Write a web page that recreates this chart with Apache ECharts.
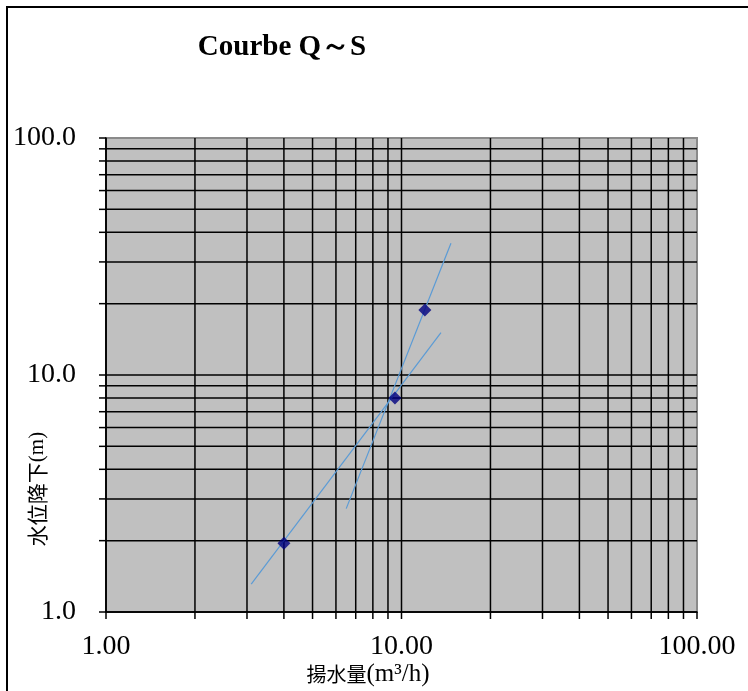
<!DOCTYPE html>
<html>
<head>
<meta charset="utf-8">
<script src="https://cdn.jsdelivr.net/npm/echarts@6/dist/echarts.min.js"></script>
<style>
  html, body { margin: 0; padding: 0; background: #fff; }
  #chart { width: 748px; height: 691px; }
</style>
</head>
<body>
<div id="chart"></div>
<script>
// Pumping test: discharge Q (m3/h) against drawdown S (m), log-log
const pumpQ = [4.0, 9.5, 12.0];
const drawS = [1.95, 8.0, 18.8];

// Straight trend segments (end points) through successive step pairs
const trendLow = [[3.1, 1.31], [13.6, 15.1]];
const trendHigh = [[6.5, 2.73], [14.7, 36.0]];

// Decade range and the 1-2-...-9 grid values of both axes
const axisMin = 1;
const axisMax = 100;
const gridValues = [1, 2, 3, 4, 5, 6, 7, 8, 9, 10, 20, 30, 40, 50, 60, 70, 80, 90, 100];

const serif = '"Times New Roman", "Liberation Serif", serif';
const cjk = '"Noto Sans CJK JP", "Noto Sans CJK SC", sans-serif';

const chart = echarts.init(document.getElementById('chart'), null, { renderer: 'canvas' });

const tickLen = 7;
const gridStroke = { stroke: '#000', lineWidth: 1.5 };

chart.setOption({
  animation: false,
  grid: {
    left: 106, right: 51, top: 138, bottom: 79,
    show: true,
    backgroundColor: '#c0c0c0',
    borderColor: '#8a8a8a',
    borderWidth: 2
  },
  xAxis: {
    type: 'log', logBase: 10, min: axisMin, max: axisMax,
    axisLine: { show: true, lineStyle: { color: '#000', width: 1.5 } },
    axisTick: { show: false },
    splitLine: { show: false },
    axisLabel: {
      margin: 21,
      color: '#000',
      fontFamily: serif,
      fontSize: 28,
      formatter: v => Number(v).toFixed(2)
    }
  },
  yAxis: {
    type: 'log', logBase: 10, min: axisMin, max: axisMax,
    axisLine: { show: true, lineStyle: { color: '#000', width: 1.5 } },
    axisTick: { show: false },
    splitLine: { show: false },
    axisLabel: {
      margin: 30,
      color: '#000',
      fontFamily: serif,
      fontSize: 28,
      formatter: v => Number(v).toFixed(1)
    }
  },
  graphic: [
    {
      type: 'rect', silent: true,
      shape: { x: 7, y: 7, width: 900, height: 900 },
      style: { fill: 'none', stroke: '#000', lineWidth: 2 }
    },
    {
      type: 'text', x: 282, y: 48, silent: true,
      style: {
        text: 'Courbe Q～S',
        font: 'bold 29px ' + serif,
        fill: '#000',
        align: 'center', verticalAlign: 'middle',
        textAlign: 'center', textVerticalAlign: 'middle'
      }
    },
    {
      type: 'text', x: 368, y: 674, silent: true,
      style: {
        text: '{c|揚水量}{l|(m³/h)}',
        fill: '#000',
        align: 'center', verticalAlign: 'middle',
        textAlign: 'center', textVerticalAlign: 'middle',
        rich: {
          c: { fontFamily: cjk, fontSize: 20, fill: '#000' },
          l: { fontFamily: serif, fontSize: 25, fill: '#000' }
        }
      }
    },
    {
      type: 'text', x: 37, y: 489, rotation: Math.PI / 2, silent: true,
      style: {
        text: '{c|水位降下}{l|(m)}',
        fill: '#000',
        align: 'center', verticalAlign: 'middle',
        textAlign: 'center', textVerticalAlign: 'middle',
        rich: {
          c: { fontFamily: cjk, fontSize: 21, fill: '#000' },
          l: { fontFamily: serif, fontSize: 21, fill: '#000' }
        }
      }
    }
  ],
  series: [
    {
      // vertical grid lines with their outward ticks
      type: 'custom', coordinateSystem: 'cartesian2d', clip: false, silent: true, z: 1,
      data: gridValues.map(v => [v, axisMin]),
      renderItem: (params, api) => {
        const v = api.value(0);
        const top = api.coord([v, axisMax]);
        const bot = api.coord([v, axisMin]);
        const children = [];
        if (v !== axisMax) {
          children.push({ type: 'line', shape: { x1: top[0], y1: top[1], x2: bot[0], y2: bot[1] }, style: gridStroke });
        }
        children.push({ type: 'line', shape: { x1: bot[0], y1: bot[1], x2: bot[0], y2: bot[1] + tickLen }, style: gridStroke });
        return { type: 'group', children };
      }
    },
    {
      // horizontal grid lines with their outward ticks
      type: 'custom', coordinateSystem: 'cartesian2d', clip: false, silent: true, z: 1,
      data: gridValues.map(v => [axisMin, v]),
      renderItem: (params, api) => {
        const v = api.value(1);
        const left = api.coord([axisMin, v]);
        const right = api.coord([axisMax, v]);
        const children = [];
        if (v !== axisMax) {
          children.push({ type: 'line', shape: { x1: left[0], y1: left[1], x2: right[0], y2: right[1] }, style: gridStroke });
        }
        children.push({ type: 'line', shape: { x1: left[0] - tickLen, y1: left[1], x2: left[0], y2: left[1] }, style: gridStroke });
        return { type: 'group', children };
      }
    },
    {
      type: 'line', data: trendLow, showSymbol: false, silent: true, z: 3,
      lineStyle: { color: '#5b9bd5', width: 1.2 }
    },
    {
      type: 'line', data: trendHigh, showSymbol: false, silent: true, z: 3,
      lineStyle: { color: '#5b9bd5', width: 1.2 }
    },
    {
      type: 'scatter', z: 4,
      data: pumpQ.map((q, i) => [q, drawS[i]]),
      symbol: 'diamond', symbolSize: 13,
      itemStyle: { color: '#000080' }
    }
  ]
});
</script>
</body>
</html>
